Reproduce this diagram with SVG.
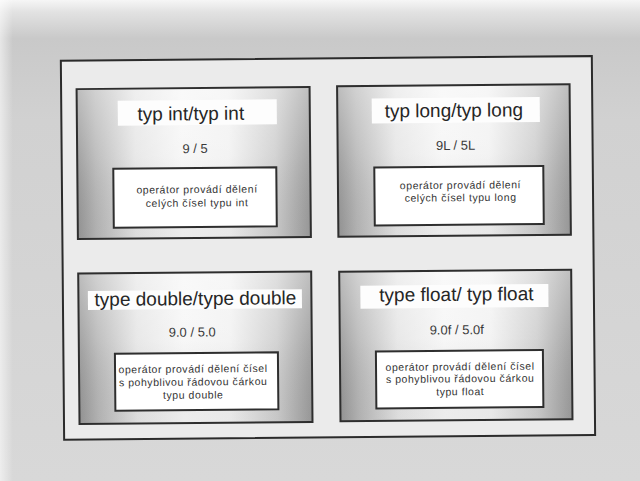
<svg xmlns="http://www.w3.org/2000/svg" width="640" height="481" viewBox="0 0 640 481">
  <defs>
    <linearGradient id="page" x1="0" y1="0" x2="0" y2="1">
      <stop offset="0" stop-color="#f6f6f6"/>
      <stop offset="0.025" stop-color="#e2e2e2"/>
      <stop offset="0.08" stop-color="#c9c9c9"/>
      <stop offset="0.25" stop-color="#d1d1d1"/>
      <stop offset="1" stop-color="#d8d8d8"/>
    </linearGradient>
    <linearGradient id="pageH" x1="0" y1="0" x2="1" y2="0">
      <stop offset="0" stop-color="#ffffff" stop-opacity="0.55"/>
      <stop offset="0.02" stop-color="#ffffff" stop-opacity="0"/>
      <stop offset="1" stop-color="#ffffff" stop-opacity="0"/>
    </linearGradient>
    <linearGradient id="boxH" x1="0" y1="0" x2="1" y2="0">
      <stop offset="0" stop-color="#989898"/>
      <stop offset="0.08" stop-color="#b8b8b8"/>
      <stop offset="0.25" stop-color="#e6e6e6"/>
      <stop offset="0.45" stop-color="#f6f6f6"/>
      <stop offset="0.65" stop-color="#f2f2f2"/>
      <stop offset="0.85" stop-color="#cfcfcf"/>
      <stop offset="1" stop-color="#9c9c9c"/>
    </linearGradient>
    <linearGradient id="boxV" x1="0" y1="0" x2="0" y2="1">
      <stop offset="0" stop-color="#ffffff" stop-opacity="0.35"/>
      <stop offset="0.45" stop-color="#ffffff" stop-opacity="0.1"/>
      <stop offset="1" stop-color="#000000" stop-opacity="0.04"/>
    </linearGradient>
  </defs>
  <style>
    .frame { fill: #ebebeb; stroke: #2b2b2b; stroke-width: 2; }
    .boxfill { fill: url(#boxH); stroke: none; }
    .boxshade { fill: url(#boxV); stroke: none; }
    .boxline { fill: none; stroke: #2e2e2e; stroke-width: 2; }
    .tbg { fill: #fdfdfd; stroke: none; }
    .desc { fill: #ffffff; stroke: #2e2e2e; stroke-width: 2; }
    .title { font-family: "Liberation Sans", Arial, sans-serif; font-size: 19px; fill: #262626; text-anchor: middle; }
    .expr { font-family: "Liberation Sans", Arial, sans-serif; font-size: 13px; fill: #3a3a3a; text-anchor: middle; }
    .small { font-family: "Liberation Sans", Arial, sans-serif; font-size: 10.5px; letter-spacing: 0.55px; fill: #333333; text-anchor: middle; }
  </style>
  <rect x="0" y="0" width="640" height="481" fill="url(#page)"/>
  <rect x="0" y="0" width="640" height="481" fill="url(#pageH)"/>
  <g transform="rotate(-0.5 320 250)">
    <rect id="frame" class="frame" x="62.5" y="58.5" width="531" height="379"/>

    <g id="node-int">
      <rect class="boxfill" x="78" y="87" width="233" height="150"/>
      <rect class="boxshade" x="78" y="87" width="233" height="150"/>
      <rect class="boxline" x="78" y="87" width="233" height="150"/>
      <rect class="tbg" x="119" y="99" width="159" height="25"/>
      <text class="title" x="192" y="119">typ int/typ int</text>
      <text class="expr" x="196" y="152">9 / 5</text>
      <rect class="desc" x="114" y="167" width="163" height="59"/>
      <text class="small" x="197.5" y="192">operátor provádí dělení</text>
      <text class="small" x="197.5" y="205.5">celých čísel typu int</text>
    </g>

    <g id="node-long">
      <rect class="boxfill" x="338.5" y="86.5" width="232.5" height="150.5"/>
      <rect class="boxshade" x="338.5" y="86.5" width="232.5" height="150.5"/>
      <rect class="boxline" x="338.5" y="86.5" width="232.5" height="150.5"/>
      <rect class="tbg" x="373" y="99" width="168" height="25"/>
      <text class="title" x="455" y="118">typ long/typ long</text>
      <text class="expr" x="456.5" y="151">9L / 5L</text>
      <rect class="desc" x="375" y="168" width="169" height="58"/>
      <text class="small" x="461" y="190">operátor provádí dělení</text>
      <text class="small" x="461" y="202.5">celých čísel typu long</text>
    </g>

    <g id="node-double">
      <rect class="boxfill" x="78" y="271.5" width="233" height="150.5"/>
      <rect class="boxshade" x="78" y="271.5" width="233" height="150.5"/>
      <rect class="boxline" x="78" y="271.5" width="233" height="150.5"/>
      <rect class="tbg" x="87.5" y="289" width="214" height="19"/>
      <text class="title" x="195" y="304">type double/type double</text>
      <text class="expr" x="191.5" y="335.5">9.0 / 5.0</text>
      <rect class="desc" x="114" y="352" width="163" height="57"/>
      <text class="small" x="192" y="371.5">operátor provádí dělení čísel</text>
      <text class="small" x="192" y="384.5">s pohyblivou řádovou čárkou</text>
      <text class="small" x="192" y="397.5">typu double</text>
    </g>

    <g id="node-float">
      <rect class="boxfill" x="339" y="272" width="232" height="149.5"/>
      <rect class="boxshade" x="339" y="272" width="232" height="149.5"/>
      <rect class="boxline" x="339" y="272" width="232" height="149.5"/>
      <rect class="tbg" x="360" y="286" width="188" height="23"/>
      <text class="title" x="456" y="302">type float/ typ float</text>
      <text class="expr" x="456" y="335.5">9.0f / 5.0f</text>
      <rect class="desc" x="375" y="352" width="167" height="57"/>
      <text class="small" x="459" y="371.5">operátor provádí dělení čísel</text>
      <text class="small" x="459" y="383.5">s pohyblivou řádovou čárkou</text>
      <text class="small" x="459" y="396.5">typu float</text>
    </g>

    <g id="connectors"/>
  </g>
</svg>
